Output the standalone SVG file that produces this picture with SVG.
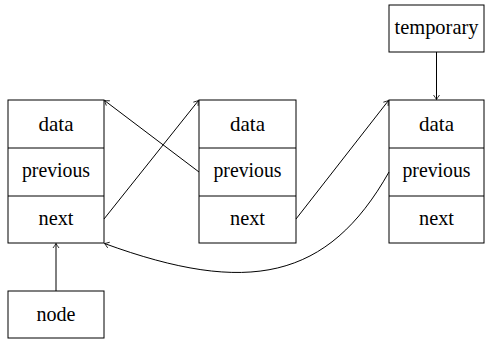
<svg xmlns="http://www.w3.org/2000/svg" width="485" height="343" viewBox="0 0 485 343">
<defs>
<marker id="ah" viewBox="-6 -4 8 8" refX="0" refY="0" markerWidth="8" markerHeight="8" markerUnits="userSpaceOnUse" orient="auto">
<path d="M-4.5,-3 Q-1.5,-0.8 0,0 Q-1.5,0.8 -4.5,3" fill="none" stroke="#000" stroke-width="0.8"/>
</marker>
</defs>
<g fill="#fff" stroke="#000" stroke-width="1">
<g id="node1">
<rect x="8" y="100" width="96" height="143"/>
<line x1="8" y1="148" x2="104" y2="148"/>
<line x1="8" y1="196" x2="104" y2="196"/>
<text x="56" y="131" stroke="none" fill="#000" font-family="Liberation Serif" font-size="22" text-anchor="middle" textLength="35" lengthAdjust="spacingAndGlyphs">data</text>
<text x="56" y="177" stroke="none" fill="#000" font-family="Liberation Serif" font-size="22" text-anchor="middle" textLength="68" lengthAdjust="spacingAndGlyphs">previous</text>
<text x="56" y="225" stroke="none" fill="#000" font-family="Liberation Serif" font-size="22" text-anchor="middle" textLength="35" lengthAdjust="spacingAndGlyphs">next</text>
</g>
<g id="node2">
<rect x="199" y="100" width="97" height="143"/>
<line x1="199" y1="148" x2="296" y2="148"/>
<line x1="199" y1="196" x2="296" y2="196"/>
<text x="247.5" y="131" stroke="none" fill="#000" font-family="Liberation Serif" font-size="22" text-anchor="middle" textLength="35" lengthAdjust="spacingAndGlyphs">data</text>
<text x="247.5" y="177" stroke="none" fill="#000" font-family="Liberation Serif" font-size="22" text-anchor="middle" textLength="68" lengthAdjust="spacingAndGlyphs">previous</text>
<text x="247.5" y="225" stroke="none" fill="#000" font-family="Liberation Serif" font-size="22" text-anchor="middle" textLength="35" lengthAdjust="spacingAndGlyphs">next</text>
</g>
<g id="node3">
<rect x="389" y="100" width="95" height="143"/>
<line x1="389" y1="148" x2="484" y2="148"/>
<line x1="389" y1="196" x2="484" y2="196"/>
<text x="436.5" y="131" stroke="none" fill="#000" font-family="Liberation Serif" font-size="22" text-anchor="middle" textLength="35" lengthAdjust="spacingAndGlyphs">data</text>
<text x="436.5" y="177" stroke="none" fill="#000" font-family="Liberation Serif" font-size="22" text-anchor="middle" textLength="68" lengthAdjust="spacingAndGlyphs">previous</text>
<text x="436.5" y="225" stroke="none" fill="#000" font-family="Liberation Serif" font-size="22" text-anchor="middle" textLength="35" lengthAdjust="spacingAndGlyphs">next</text>
</g>
<g id="temporary">
<rect x="389" y="5" width="95" height="47"/>
<text x="436.5" y="34" stroke="none" fill="#000" font-family="Liberation Serif" font-size="22" text-anchor="middle" textLength="84" lengthAdjust="spacingAndGlyphs">temporary</text>
</g>
<g id="node">
<rect x="8" y="291" width="96" height="47"/>
<text x="56" y="321" stroke="none" fill="#000" font-family="Liberation Serif" font-size="22" text-anchor="middle" textLength="39" lengthAdjust="spacingAndGlyphs">node</text>
</g>
</g>
<g id="connectors" fill="none" stroke="#000" stroke-width="1" marker-end="url(#ah)">
<line x1="56" y1="291" x2="56" y2="243.5"/>
<line x1="436.5" y1="52" x2="436.5" y2="99.5"/>
<line x1="104" y1="219" x2="198.5" y2="100.5"/>
<line x1="199" y1="172" x2="104.5" y2="100.5"/>
<line x1="296" y1="219" x2="388.5" y2="100.5"/>
<path d="M389,172 C328,280 248,296 104.5,243.5"/>
</g>
</svg>
